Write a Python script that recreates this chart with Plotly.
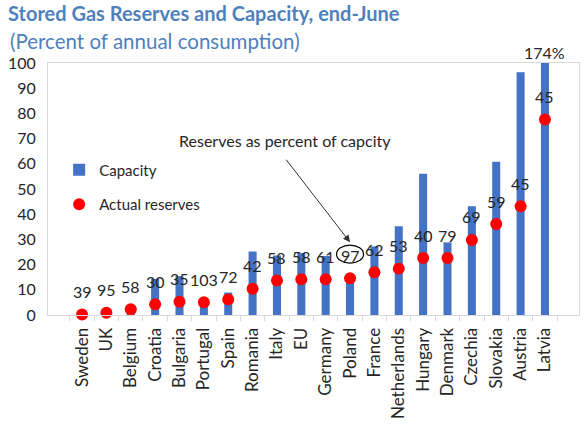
import plotly.graph_objects as go

# ---------------------------------------------------------------------------
# Data
# ---------------------------------------------------------------------------
countries = ["Sweden", "UK", "Belgium", "Croatia", "Bulgaria", "Portugal", "Spain",
             "Romania", "Italy", "EU", "Germany", "Poland", "France", "Netherlands",
             "Hungary", "Denmark", "Czechia", "Slovakia", "Austria", "Latvia"]
capacity = [0.5, 1.0, 4.0, 14.3, 15.4, 5.0, 8.9, 25.2, 23.6, 24.6,
            23.4, 15.1, 27.2, 35.2, 56.1, 28.8, 43.2, 60.8, 96.3, 174.0]
reserves = [0.2, 0.9, 2.3, 4.3, 5.3, 5.1, 6.2, 10.4, 13.7, 14.2,
            14.2, 14.6, 17.0, 18.4, 22.6, 22.6, 29.8, 36.1, 43.2, 77.6]
pct_of_capacity = [39, 95, 58, 30, 35, 103, 72, 42, 58, 58,
                   61, 97, 62, 53, 40, 79, 69, 59, 45, 45]
highlight = "Poland"
y_ticks = list(range(0, 101, 10))
y_max = 100

FONT = "Lato"
TITLE_COLOR = "#4F81BD"
BAR_COLOR = "#4472C4"
DOT_COLOR = "#FF0000"
TEXT_COLOR = "#262626"
FRAME = "#D9D9D9"

W, H = 588, 424

fig = go.Figure()

fig.add_trace(go.Bar(
    x=countries, y=capacity,
    name="Capacity",
    marker=dict(color=BAR_COLOR, line=dict(width=0)),
    legendgroup="cap",
))
fig.add_trace(go.Scatter(
    x=countries, y=reserves,
    mode="markers",
    name="Actual reserves",
    marker=dict(color=DOT_COLOR, size=12),
    cliponaxis=False,
    legendgroup="res",
))

# percent-of-capacity labels above each dot
for c, r, p in zip(countries, reserves, pct_of_capacity):
    fig.add_annotation(
        x=c, y=r, text=str(p), showarrow=False,
        yshift=23, font=dict(family=FONT, size=16, color=TEXT_COLOR),
    )

# capacity that runs off the top of the axis
for c, cap in zip(countries, capacity):
    if cap > y_max:
        fig.add_annotation(
            x=c, y=y_max, text=f"{cap:.0f}%", showarrow=False,
            yshift=11, font=dict(family=FONT, size=16, color=TEXT_COLOR),
        )

# circle around the highlighted label + call-out
hi = countries.index(highlight)
fig.add_shape(
    type="circle", xref="x", yref="y",
    xsizemode="pixel", ysizemode="pixel",
    xanchor=hi, yanchor=reserves[hi],
    x0=-13.5, x1=13.5, y0=15, y1=33,
    line=dict(color="black", width=1.2),
)
fig.add_annotation(
    x=highlight, y=reserves[hi], yshift=36,
    text="", showarrow=True, arrowhead=2, arrowsize=1.4, arrowwidth=1,
    arrowcolor="#333333", ax=-65, ay=-84,
)
fig.add_annotation(
    x=highlight, y=reserves[hi], yshift=138, xshift=-65,
    text="Reserves as percent of capcity", showarrow=False,
    font=dict(family=FONT, size=16, color=TEXT_COLOR),
)

fig.add_annotation(
    xref="paper", yref="paper", x=-0.0753, y=1.087,
    xanchor="left", yanchor="middle", showarrow=False,
    text="(Percent of annual consumption)",
    font=dict(family=FONT, size=20.5, color=TITLE_COLOR),
)

fig.update_layout(
    width=W, height=H,
    margin=dict(l=48, r=9, t=63, b=109),
    paper_bgcolor="white",
    plot_bgcolor="white",
    bargap=0.67,
    title=dict(
        text="<b>Stored Gas Reserves and Capacity, end-June</b>",
        x=8 / W, xanchor="left", xref="container",
        y=1 - 14 / H, yanchor="middle", yref="container",
        font=dict(family=FONT, size=20, color=TITLE_COLOR),
    ),
    font=dict(family=FONT, size=15, color=TEXT_COLOR),
    showlegend=True,
    legend=dict(
        x=0.021, y=0.641, xanchor="left", yanchor="top",
        bgcolor="rgba(0,0,0,0)",
        font=dict(family=FONT, size=15, color=TEXT_COLOR),
        tracegroupgap=12,
    ),
    xaxis=dict(
        type="category",
        tickangle=-90,
        ticks="outside", ticklen=5, tickcolor=FRAME, tickson="boundaries",
        ticklabelstandoff=5,
        showline=True, linecolor=FRAME, mirror=True,
        showgrid=False, automargin=False,
        tickfont=dict(family=FONT, size=17, color=TEXT_COLOR),
    ),
    yaxis=dict(
        range=[0, y_max], tickvals=y_ticks,
        showgrid=False, zeroline=False,
        showline=True, linecolor=FRAME, mirror=True,
        ticks="", ticklabelstandoff=8, automargin=False,
        tickfont=dict(family=FONT, size=16, color=TEXT_COLOR),
    ),
)

# drop the browser's default 8px body margin so the figure fills the window
fig.write_html(
    "out.html",
    config={"displayModeBar": False},
    post_script="document.body.style.margin = '0';",
)
